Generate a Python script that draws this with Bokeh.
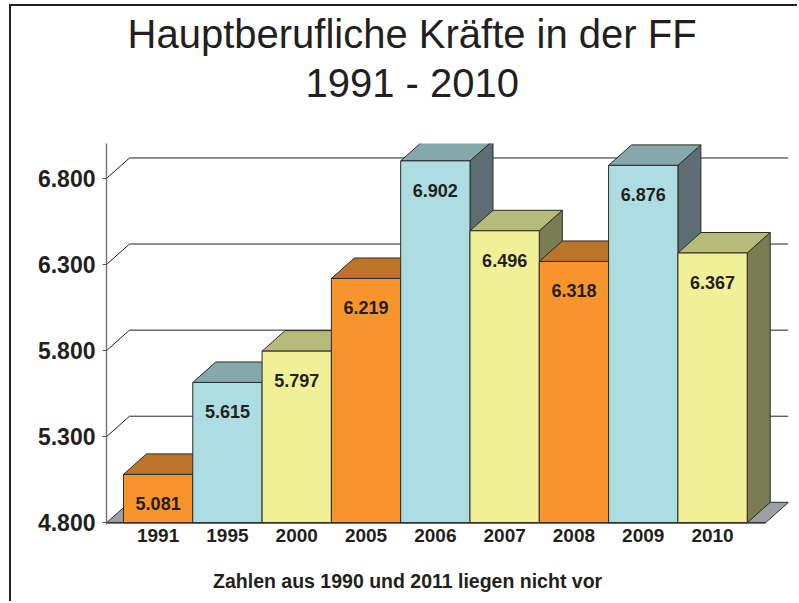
from bokeh.plotting import figure
from bokeh.models import FixedTicker, Range1d, Title, LinearAxis
from bokeh.core.properties import value
from bokeh.embed import file_html
from bokeh.resources import INLINE

# ---- data ----
years = ["1991", "1995", "2000", "2005", "2006", "2007", "2008", "2009", "2010"]
values = [5081, 5615, 5797, 6219, 6902, 6496, 6318, 6876, 6367]
y_ticks = [4800, 5300, 5800, 6300, 6800]
y_tick_labels = ["4.800", "5.300", "5.800", "6.300", "6.800"]
title_line1 = "Hauptberufliche Kräfte in der FF"
title_line2 = "1991 - 2010"
footnote = "Zahlen aus 1990 und 2011 liegen nicht vor"

# ---- styles ----
front_cols = ["#F7952C", "#ADDDE2", "#F2F097"]
top_cols = ["#BC742A", "#84A8AC", "#B7BB7A"]
side_cols = ["#8B5A22", "#5C6E74", "#7A7C52"]
FONT = "Liberation Sans"
TXT = "#231F20"
EDGE = "#2b2b2b"

BASE = 4800
DX = 0.332   # depth offset (x units)
DY = 119     # depth offset (value units)
X0, X1 = -0.245, 9.596
FLOOR_END = 9.264
FOOT_X = 4.1

p = figure(width=788, height=597,
           x_range=Range1d(X0, X1), y_range=Range1d(4790, 7003),
           output_backend="svg", toolbar_location=None,
           min_border_left=95, min_border_right=11,
           min_border_top=137, min_border_bottom=79)
p.styles = {"border-left": "2px solid #222", "border-top": "2px solid #222",
            "margin-left": "9px", "margin-top": "4px"}
p.xgrid.visible = False
p.ygrid.visible = False
p.outline_line_color = None
p.background_fill_color = "white"
p.border_fill_color = "white"

# back-wall gridlines
gx, gy = [], []
for t in y_ticks[1:]:
    gx.append([X0, X0 + DX, X1])
    gy.append([t, t + DY, t + DY])
p.multi_line(gx, gy, line_color="#222", line_width=1)

# floor
p.patch([X0, FLOOR_END, FLOOR_END + DX, X0 + DX], [BASE, BASE, BASE + DY, BASE + DY],
        fill_color="#9D9FA2", line_color=EDGE, line_width=1)

n = len(values)
centers = [i + 0.5 for i in range(n)]
fc = [front_cols[i % 3] for i in range(n)]
tc = [top_cols[i % 3] for i in range(n)]
sc = [side_cols[i % 3] for i in range(n)]

side_xs = [[i + 1, i + 1 + DX, i + 1 + DX, i + 1] for i in range(n)]
side_ys = [[BASE, BASE + DY, v + DY, v] for v in values]
p.patches(side_xs, side_ys, fill_color=sc, line_color=EDGE, line_width=1)

top_xs = [[i, i + DX, i + 1 + DX, i + 1] for i in range(n)]
top_ys = [[v, v + DY, v + DY, v] for v in values]
p.patches(top_xs, top_ys, fill_color=tc, line_color=EDGE, line_width=1)

p.vbar(x=centers, width=1, top=values, bottom=BASE, fill_color=fc,
       line_color=EDGE, line_width=1)

# baseline
p.line([X0, FLOOR_END], [BASE, BASE], line_color="#333", line_width=1.5)

# value labels
p.text(x=centers, y=[v - 171 for v in values],
       text=[f"{v/1000:.3f}" for v in values],
       text_font=value(FONT), text_font_style="bold", text_font_size="18px",
       text_color=TXT, text_align="center", text_baseline="alphabetic")

# axes
p.yaxis.ticker = FixedTicker(ticks=y_ticks)
p.yaxis.major_label_overrides = dict(zip(y_ticks, y_tick_labels))
p.yaxis.major_label_text_font = FONT
p.yaxis.major_label_text_font_style = "bold"
p.yaxis.major_label_text_font_size = "23px"
p.yaxis.major_label_text_color = TXT
p.yaxis.axis_line_color = "#777"
p.yaxis.axis_line_width = 1.5
p.yaxis.major_tick_line_color = "#555"
p.yaxis.major_tick_out = 4
p.yaxis.major_tick_in = 0
p.yaxis.minor_tick_line_color = None
p.yaxis.major_label_standoff = 7

p.xaxis.ticker = FixedTicker(ticks=centers)
p.xaxis.major_label_overrides = dict(zip(centers, years))
p.xaxis.major_label_text_font = FONT
p.xaxis.major_label_text_font_style = "bold"
p.xaxis.major_label_text_font_size = "19px"
p.xaxis.major_label_text_color = TXT
p.xaxis.axis_line_color = None
p.xaxis.major_tick_line_color = None
p.xaxis.major_tick_out = 0
p.xaxis.major_tick_in = 0
p.xaxis.minor_tick_line_color = None
p.xaxis.major_label_standoff = 4

# footnote as a second, line-less axis below
foot_axis = LinearAxis(ticker=FixedTicker(ticks=[FOOT_X]),
                       major_label_overrides={FOOT_X: footnote},
                       axis_line_color=None, major_tick_line_color=None,
                       minor_tick_line_color=None, major_tick_out=0, major_tick_in=0,
                       major_label_standoff=25,
                       major_label_text_font=FONT, major_label_text_font_style="bold",
                       major_label_text_font_size="19.5px", major_label_text_color=TXT)
p.add_layout(foot_axis, "below")

# spacer between frame and title block
p.add_layout(Title(text=" ", standoff=32, text_font_size="2px",
                   text_color="white"), "above")
# title (two lines)
p.add_layout(Title(text=title_line2, align="left", offset=199, standoff=6,
                   text_font=FONT, text_font_size="40px", text_font_style="normal",
                   text_color=TXT), "above")
p.add_layout(Title(text=title_line1, align="left", offset=21, standoff=0,
                   text_font=FONT, text_font_size="40px", text_font_style="normal",
                   text_color=TXT), "above")

open("out.html", "w").write(file_html(p, INLINE))
